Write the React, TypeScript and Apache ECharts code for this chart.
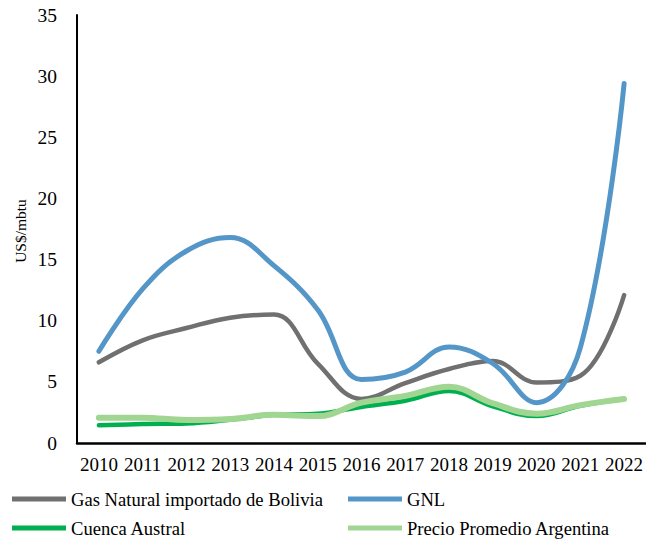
import React, { useEffect, useRef } from "react";
import * as echarts from "echarts";

const years = ["2010", "2011", "2012", "2013", "2014", "2015", "2016", "2017", "2018", "2019", "2020", "2021", "2022"];
const bolivia = [6.6, 8.4, 9.4, 10.25, 10.5, 6.5, 3.6, 4.9, 6.05, 6.7, 4.95, 5.5, 12.1];
const gnl = [7.5, 12.6, 15.7, 16.8, 14.5, 10.9, 5.2, 5.8, 7.85, 6.5, 3.3, 7.8, 29.4];
const cuenca = [1.45, 1.55, 1.6, 1.9, 2.3, 2.4, 2.95, 3.45, 4.25, 3.0, 2.2, 3.05, 3.6];
const precio = [2.07, 2.07, 1.88, 1.96, 2.3, 2.2, 3.3, 3.85, 4.6, 3.25, 2.4, 3.1, 3.6];

const names = ["Gas Natural importado de Bolivia", "GNL", "Cuenca Austral", "Precio Promedio Argentina"];
const colors = ["#707070", "#5596c8", "#00b050", "#a0d592"];
const widths = [4.5, 5, 4.5, 6];

const FONT = "'Liberation Serif', 'Times New Roman', 'DejaVu Serif', serif";

export default function App() {
  const ref = useRef<HTMLDivElement>(null);
  useEffect(() => {
    if (!ref.current) return;
    const chart = echarts.init(ref.current, null, { renderer: "svg" });
    const dataSets = [bolivia, gnl, cuenca, precio];
    const legendPos = [
      { left: 12, top: 489 },
      { left: 348, top: 489 },
      { left: 12, top: 518 },
      { left: 348, top: 518 },
    ];
    chart.setOption({
      animation: false,
      backgroundColor: "#ffffff",
      textStyle: { fontFamily: FONT },
      grid: { left: 77, top: 15, width: 572, height: 428, containLabel: false },
      legend: names.map((n, i) => ({
        data: [n],
        left: legendPos[i].left,
        top: legendPos[i].top,
        padding: 0,
        itemWidth: 54,
        itemHeight: 5,
        icon: "rect",
        textStyle: { fontFamily: FONT, fontSize: 18.6, color: "#000", lineHeight: 20 },
      })),
      xAxis: {
        type: "category",
        data: years,
        boundaryGap: true,
        axisLine: { lineStyle: { color: "#000", width: 2.5 } },
        axisTick: { show: false },
        axisLabel: { fontFamily: FONT, fontSize: 19, color: "#000", margin: 12, interval: 0 },
      },
      yAxis: {
        type: "value",
        min: 0,
        max: 35,
        interval: 5,
        splitLine: { show: false },
        axisLine: { show: true, lineStyle: { color: "#000", width: 2 } },
        axisTick: { show: false },
        axisLabel: { fontFamily: FONT, fontSize: 19.5, color: "#000", margin: 20 },
      },
      graphic: [
        {
          type: "text",
          x: 20,
          y: 231,
          rotation: Math.PI / 2,
          style: {
            text: "US$/mbtu",
            fontFamily: FONT,
            fontSize: 15.5,
            fill: "#000",
            align: "center",
            verticalAlign: "middle",
          },
        },
      ],
      series: names.map((n, i) => ({
        name: n,
        type: "line",
        data: dataSets[i],
        smooth: 0.4,
        symbol: "none",
        lineStyle: { color: colors[i], width: widths[i], cap: "round" },
        itemStyle: { color: colors[i] },
      })),
    });
    return () => chart.dispose();
  }, []);
  return (
    <div
      ref={ref}
      style={{ position: "fixed", left: 0, top: 0, width: 646, height: 541 }}
    />
  );
}
